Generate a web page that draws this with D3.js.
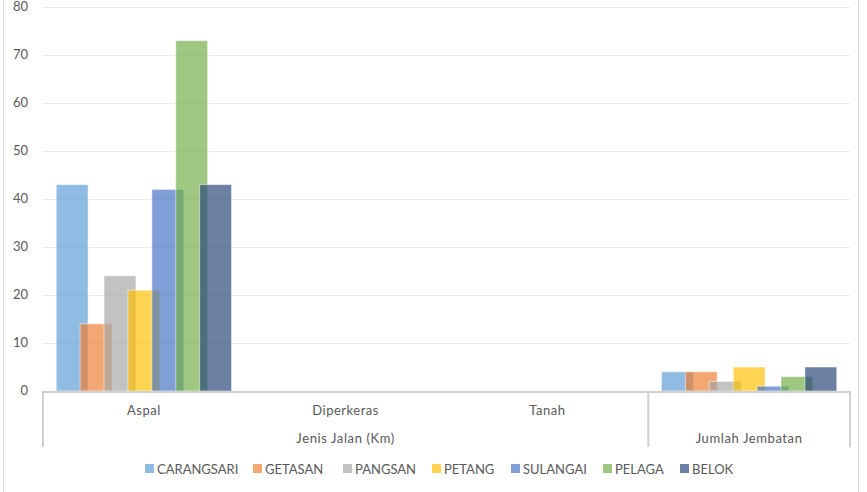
<!DOCTYPE html>
<html><head><meta charset="utf-8">
<script src="https://cdn.jsdelivr.net/npm/d3@7"></script>
<style>body{margin:0;background:#fff}svg{display:block}text{font-family:Lato,"Open Sans",sans-serif;fill:#595959}</style>
</head><body><svg id="c" width="867" height="492"></svg>
<script>
const categories = ["Aspal","Diperkeras","Tanah","Jumlah Jembatan"];
const groupLabels = [{label:"Jenis Jalan (Km)", from:0, to:2},{label:"Jumlah Jembatan", from:3, to:3}];
const seriesNames = ["CARANGSARI","GETASAN","PANGSAN","PETANG","SULANGAI","PELAGA","BELOK"];
const seriesColors = ["#5B9BD5","#ED7D31","#A5A5A5","#FFC000","#4472C4","#70AD47","#264478"];
const CARANGSARI = [43,0,0,4];
const GETASAN = [14,0,0,4];
const PANGSAN = [24,0,0,2];
const PETANG = [21,0,0,5];
const SULANGAI = [42,0,0,1];
const PELAGA = [73,0,0,3];
const BELOK = [43,0,0,5];
const seriesValues = [CARANGSARI,GETASAN,PANGSAN,PETANG,SULANGAI,PELAGA,BELOK];
const yTicks = [0,10,20,30,40,50,60,70,80];

const svg = d3.select("#c");
const L=43, R=850, T=7, B=391;
// chart border
svg.append("line").attr("x1",3.5).attr("x2",3.5).attr("y1",0).attr("y2",492).attr("stroke","#d9d9d9");
svg.append("line").attr("x1",858.5).attr("x2",858.5).attr("y1",0).attr("y2",492).attr("stroke","#d9d9d9");

const y = d3.scaleLinear().domain([0,80]).range([B,T]);
const x0 = d3.scaleBand().domain(categories).range([L,R]).padding(0);
const step = x0.bandwidth()*0.1185;
const x1 = d3.scalePoint().domain(seriesNames).range([-3*step,3*step]);
const bw = step*1.333;

// gridlines
svg.append("g").selectAll("line").data(yTicks.slice(1)).join("line")
  .attr("x1",L).attr("x2",R).attr("y1",d=>Math.round(y(d))+0.5).attr("y2",d=>Math.round(y(d))+0.5)
  .attr("stroke","#ebebeb").attr("stroke-width",1);
// y labels
const yAxis = d3.axisLeft(y).tickValues(yTicks).tickSize(0).tickPadding(15);
const yg = svg.append("g").attr("transform",`translate(${L},0)`).call(yAxis);
yg.select(".domain").remove();
yg.selectAll("text").attr("font-size",13).style("fill","#595959").style("font-family","Lato,'Open Sans',sans-serif").attr("dy","0.3em");

// bars
seriesNames.forEach((s,i)=>{
  svg.append("g").selectAll("rect").data(categories.map((c,j)=>({c,v:seriesValues[i][j]})).filter(d=>d.v>0)).join("rect")
    .attr("x",d=>x0(d.c)+x0.bandwidth()/2+x1(s)-bw/2)
    .attr("width",bw)
    .attr("y",d=>y(d.v)).attr("height",d=>B-y(d.v))
    .attr("fill",seriesColors[i]).attr("fill-opacity",0.68)
    .attr("stroke","#ffffff").attr("stroke-opacity",0.5).attr("stroke-width",1);
});

// x axis line
svg.append("line").attr("x1",L).attr("x2",R).attr("y1",B+1).attr("y2",B+1).attr("stroke","#d0d0d0").attr("stroke-width",2);
// separators
const seps = [L, x0("Jumlah Jembatan"), R];
svg.append("g").selectAll("line").data(seps).join("line")
  .attr("x1",d=>d).attr("x2",d=>d).attr("y1",B).attr("y2",447).attr("stroke","#d0d0d0").attr("stroke-width",2);
// category labels
svg.append("g").selectAll("text").data(categories.slice(0,3)).join("text")
  .attr("x",d=>x0(d)+x0.bandwidth()/2).attr("y",415).attr("text-anchor","middle").attr("font-size",13)
  .attr("letter-spacing","0.5px").text(d=>d);
svg.append("g").selectAll("text").data(groupLabels).join("text")
  .attr("x",d=>(x0(categories[d.from])+x0(categories[d.to])+x0.bandwidth())/2).attr("y",443)
  .attr("text-anchor","middle").attr("font-size",13).attr("letter-spacing","0.6px").text(d=>d.label);

// legend
const lg = svg.append("g");
const legX = [145,253,343,432,511,603,680];
seriesNames.forEach((s,i)=>{
  const g = lg.append("g").attr("transform",`translate(${legX[i]},464)`);
  g.append("rect").attr("width",9).attr("height",9).attr("fill",seriesColors[i]).attr("fill-opacity",0.68);
  g.append("text").attr("x",12).attr("y",9.5).attr("font-size",13).text(s);
});
</script></body></html>
